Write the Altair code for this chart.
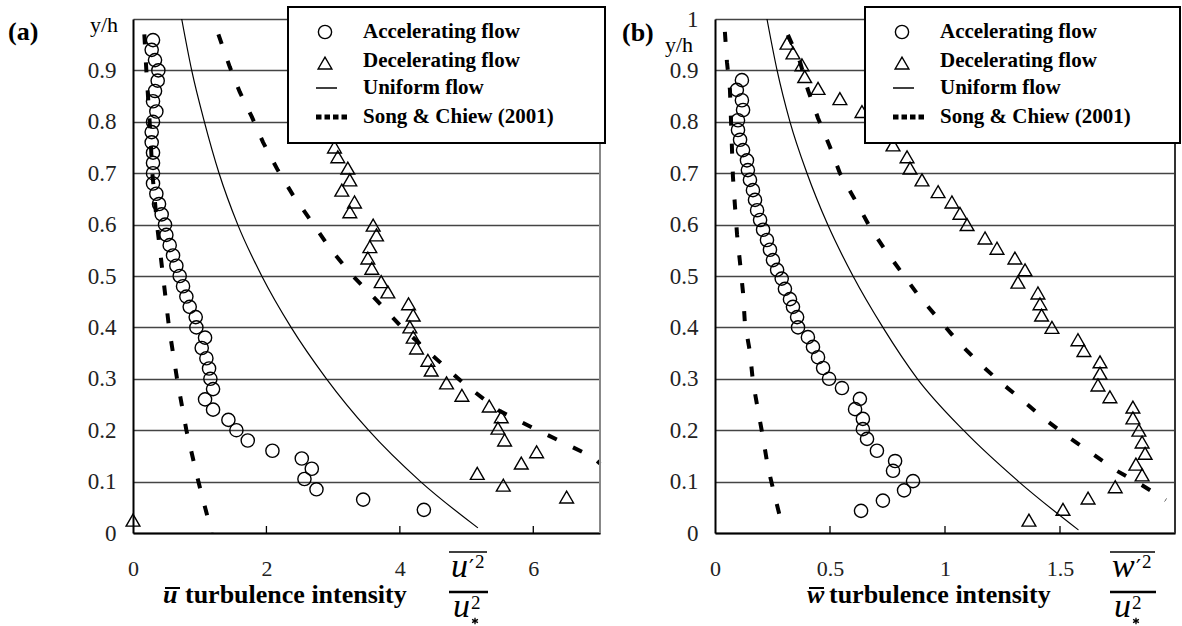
import altair as alt
import pandas as pd

FONT = "Liberation Serif"

# ---------------- panel (a): streamwise intensity u'^2/u*^2 ----------------
acc_a_y = [0.959, 0.94, 0.92, 0.90, 0.88, 0.86, 0.84, 0.82, 0.80, 0.78,
           0.76, 0.74, 0.72, 0.70, 0.68, 0.66, 0.64, 0.62, 0.60, 0.58,
           0.56, 0.54, 0.52, 0.50, 0.48, 0.46, 0.44, 0.42, 0.40, 0.38,
           0.36, 0.34, 0.32, 0.30, 0.28, 0.26, 0.24, 0.22, 0.20, 0.18,
           0.16, 0.145, 0.125, 0.105, 0.085, 0.065, 0.045]
acc_a_x = [0.30, 0.28, 0.33, 0.38, 0.37, 0.33, 0.30, 0.35, 0.30, 0.28,
           0.28, 0.30, 0.30, 0.30, 0.30, 0.35, 0.39, 0.43, 0.48, 0.50,
           0.55, 0.60, 0.65, 0.70, 0.75, 0.80, 0.85, 0.94, 0.95, 1.08,
           1.03, 1.10, 1.14, 1.16, 1.20, 1.08, 1.20, 1.43, 1.55, 1.72,
           2.09, 2.53, 2.68, 2.57, 2.75, 3.45, 4.36]

dec_a_y = [0.77, 0.751, 0.732, 0.71, 0.687, 0.667, 0.644, 0.625, 0.599, 0.58,
           0.557, 0.535, 0.515, 0.489, 0.469, 0.446, 0.424, 0.401, 0.381, 0.36,
           0.336, 0.317, 0.292, 0.268, 0.247, 0.226, 0.204, 0.181, 0.158, 0.136,
           0.116, 0.093, 0.07, 0.025]
dec_a_x = [2.98, 3.02, 3.07, 3.22, 3.25, 3.13, 3.32, 3.25, 3.60, 3.65,
           3.55, 3.52, 3.58, 3.72, 3.82, 4.13, 4.20, 4.15, 4.20, 4.25,
           4.42, 4.47, 4.70, 4.93, 5.34, 5.52, 5.47, 5.57, 6.05, 5.82,
           5.16, 5.55, 6.50, 0.0]

uni_a_y = [1.0, 0.9, 0.8, 0.7, 0.6, 0.5, 0.4, 0.3, 0.2, 0.1, 0.01]
uni_a_x = [0.73, 0.88, 1.07, 1.29, 1.57, 1.93, 2.37, 2.90, 3.53, 4.31, 5.17]

song_a_lo_y = [0.97, 0.9, 0.8, 0.7, 0.6, 0.5, 0.4, 0.3, 0.2, 0.1, 0.0]
song_a_lo_x = [0.17, 0.20, 0.25, 0.29, 0.36, 0.45, 0.54, 0.66, 0.80, 0.98, 1.18]
song_a_hi_y = [0.97, 0.907, 0.858, 0.81, 0.76, 0.706, 0.657, 0.605, 0.554, 0.502,
               0.453, 0.40, 0.35, 0.294, 0.239, 0.204, 0.167, 0.148, 0.135]
song_a_hi_x = [1.28, 1.45, 1.60, 1.78, 1.95, 2.17, 2.40, 2.68, 2.95, 3.28,
               3.65, 4.03, 4.45, 4.93, 5.47, 6.00, 6.59, 6.89, 7.00]

# ---------------- panel (b): vertical intensity w'^2/u*^2 ----------------
acc_b_y = [0.881, 0.862, 0.842, 0.823, 0.803, 0.784, 0.765, 0.745, 0.725, 0.706,
           0.687, 0.667, 0.648, 0.628, 0.609, 0.59, 0.57, 0.551, 0.531, 0.512,
           0.495, 0.475, 0.455, 0.44, 0.42, 0.40, 0.381, 0.362, 0.342, 0.321,
           0.30, 0.282, 0.261, 0.241, 0.222, 0.202, 0.183, 0.16, 0.14, 0.121,
           0.101, 0.083, 0.063, 0.043]
acc_b_x = [0.117, 0.095, 0.117, 0.122, 0.10, 0.10, 0.109, 0.122, 0.139, 0.143,
           0.152, 0.165, 0.174, 0.183, 0.196, 0.209, 0.226, 0.239, 0.252, 0.27,
           0.29, 0.304, 0.326, 0.339, 0.357, 0.361, 0.404, 0.426, 0.448, 0.47,
           0.496, 0.552, 0.63, 0.609, 0.643, 0.643, 0.661, 0.704, 0.783, 0.774,
           0.861, 0.822, 0.73, 0.635]

dec_b_y = [0.953, 0.934, 0.911, 0.888, 0.865, 0.845, 0.82, 0.755, 0.732, 0.71,
           0.687, 0.664, 0.644, 0.622, 0.60, 0.574, 0.554, 0.535, 0.512, 0.488,
           0.467, 0.446, 0.424, 0.40, 0.376, 0.355, 0.333, 0.311, 0.288, 0.265,
           0.245, 0.224, 0.20, 0.177, 0.155, 0.134, 0.113, 0.09, 0.068, 0.046,
           0.025]
dec_b_x = [0.313, 0.339, 0.378, 0.39, 0.448, 0.543, 0.639, 0.774, 0.835, 0.848,
           0.90, 0.97, 1.03, 1.065, 1.096, 1.174, 1.226, 1.304, 1.348, 1.317,
           1.404, 1.413, 1.42, 1.465, 1.578, 1.604, 1.674, 1.674, 1.665, 1.717,
           1.817, 1.817, 1.843, 1.857, 1.87, 1.83, 1.857, 1.74, 1.622, 1.513,
           1.365]

uni_b_y = [1.0, 0.9, 0.8, 0.7, 0.6, 0.5, 0.4, 0.3, 0.2, 0.1, 0.006]
uni_b_x = [0.226, 0.27, 0.326, 0.40, 0.49, 0.60, 0.73, 0.88, 1.08, 1.32, 1.58]

song_b_lo_y = [0.975, 0.916, 0.862, 0.745, 0.693, 0.635, 0.58, 0.525, 0.467,
               0.408, 0.352, 0.294, 0.239, 0.185, 0.128, 0.07, 0.016]
song_b_lo_x = [0.043, 0.052, 0.065, 0.074, 0.078, 0.087, 0.096, 0.109, 0.122,
               0.13, 0.152, 0.165, 0.187, 0.209, 0.23, 0.261, 0.291]
song_b_hi_y = [0.969, 0.916, 0.862, 0.807, 0.751, 0.70, 0.648, 0.595, 0.551, 0.506,
               0.463, 0.42, 0.372, 0.333, 0.294, 0.259, 0.224, 0.187, 0.156, 0.123,
               0.093, 0.064]
song_b_hi_x = [0.317, 0.37, 0.404, 0.448, 0.5, 0.543, 0.609, 0.674, 0.739, 0.813,
               0.883, 0.965, 1.057, 1.143, 1.239, 1.335, 1.426, 1.535, 1.635, 1.739,
               1.857, 1.96]

# ---------------- labels and ticks ----------------
legend_labels = ["Accelerating flow", "Decelerating flow", "Uniform flow", "Song & Chiew (2001)"]
x_ticks_a = [0, 2, 4, 6]
x_ticks_b = [0, 0.5, 1, 1.5]
y_ticks = [0, 0.1, 0.2, 0.3, 0.4, 0.5, 0.6, 0.7, 0.8, 0.9, 1.0]

H = 514
ONE = pd.DataFrame({"k": [0]})


def df(xs, ys):
    return pd.DataFrame({"x": xs, "y": ys})


def text(s, x, y, size, weight="normal", style="normal", align="left",
         baseline="alphabetic", font=FONT):
    return alt.Chart(ONE).mark_text(
        text=s, font=font, fontSize=size, fontWeight=weight, fontStyle=style,
        align=align, baseline=baseline, color="black"
    ).encode(x=alt.value(x), y=alt.value(y))


def seg(x0, x1, y, width, dash=None):
    kw = dict(color="black", strokeWidth=width)
    if dash:
        kw["strokeDash"] = dash
    return alt.Chart(ONE).mark_rule(**kw).encode(
        x=alt.value(x0), x2=alt.value(x1), y=alt.value(y))


def symbol(shape, x, y, size):
    return alt.Chart(ONE).mark_point(
        shape=shape, filled=False, size=size, color="black", strokeWidth=1.4, opacity=1
    ).encode(x=alt.value(x), y=alt.value(y))


def panel(p):
    X = alt.X("x:Q", title=None,
              scale=alt.Scale(domain=[0, p["xmax"]], nice=False, zero=False),
              axis=alt.Axis(values=p["xticks"], format="~g", grid=False, ticks=False,
                            labelPadding=25, labelFlush=False, domainWidth=2,
                            domainColor="black", labelFont=FONT, labelFontSize=22,
                            labelColor="#222"))
    Y = alt.Y("y:Q", title=None,
              scale=alt.Scale(domain=[0, 1], nice=False, zero=False),
              axis=alt.Axis(values=y_ticks, labelExpr=p["ylabels"], grid=True,
                            gridColor="#444", gridWidth=1.3, ticks=False,
                            labelPadding=17, domainWidth=2, domainColor="black",
                            labelFont=FONT, labelFontSize=23, labelColor="#222"))

    layers = [
        alt.Chart(df(p["uni"][0], p["uni"][1])).mark_line(
            color="black", strokeWidth=1.2, interpolate="monotone").encode(x=X, y=Y),
    ]
    for sx, sy in p["song"]:
        layers.append(alt.Chart(df(sx, sy)).mark_line(
            color="black", strokeWidth=4, strokeDash=[10, 18]).encode(x=X, y=Y))
    layers += [
        alt.Chart(df(*p["acc"])).mark_point(
            shape="circle", filled=False, size=175, color="black",
            strokeWidth=1.4, opacity=1).encode(x=X, y=Y),
        alt.Chart(df(*p["dec"])).mark_point(
            shape="triangle-up", filled=False, size=190, color="black",
            strokeWidth=1.4, opacity=1).encode(x=X, y=Y),
        # inward tick marks on the bottom axis
        alt.Chart(pd.DataFrame({"x": p["xticks"][1:], "y": 0})).mark_rule(
            color="black", strokeWidth=1.3).encode(x=X, y=Y, y2=alt.value(H - 7)),
        # right-hand frame
        alt.Chart(pd.DataFrame({"x": [p["xmax"]], "y": [0], "y2": [1]})).mark_rule(
            color=p["frame"], strokeWidth=2).encode(x=X, y=Y, y2="y2:Q"),
    ]

    # legend box
    lx0, lx1 = p["box"]
    layers.append(alt.Chart(ONE).mark_rect(fill="white", stroke="black", strokeWidth=2).encode(
        x=alt.value(lx0), x2=alt.value(lx1), y=alt.value(-12), y2=alt.value(124)))
    sx = p["sym_x"]
    rows = [13, 42, 69, 98]
    layers += [
        symbol("circle", sx, rows[0], 175),
        symbol("triangle-up", sx, rows[1] + 2, 190),
        seg(sx - 9, sx + 12, rows[2], 1.5),
        seg(sx - 9, sx + 23, rows[3], 5, [5.5, 3]),
    ]
    for lab, ry in zip(legend_labels, rows):
        layers.append(text(lab, p["text_x"], ry, 21, weight="bold", baseline="middle"))

    # panel letter and y label
    layers.append(text(p["letter"][0], p["letter"][1], p["letter"][2], 26,
                       weight="bold", baseline="middle"))
    layers.append(text("y/h", p["yh"][0], p["yh"][1], 22, align="right", baseline="middle"))

    # x axis title: barred symbol + words
    tx = p["title_x"]
    layers += [
        text(p["sym"], tx, 584, 26, weight="bold", style="italic"),
        seg(tx + 2, tx + 17, 569, 2),
        text("turbulence intensity", tx + 22, 584, 26, weight="bold"),
    ]

    # fraction  (sym'^2 over u*^2)
    fx = p["frac_x"]
    pdx = p["prime_dx"]
    layers += [
        seg(fx, fx + p["frac_w"], 533, 1.5),
        text(p["sym"], fx + 2, 558, 34, style="italic"),
        text("\u2032", fx + pdx, 556, 22, font="DejaVu Serif"),
        text("2", fx + pdx + 6, 549, 19),
        seg(fx, fx + p["frac_w"] + 1, 573, 2.5),
        text("u", fx + 4, 598, 34, style="italic"),
        text("2", fx + 22, 590, 19),
        alt.Chart(ONE).mark_point(
            shape="M0,-1L0,1M-0.87,-0.5L0.87,0.5M-0.87,0.5L0.87,-0.5",
            filled=False, size=45, color="black", strokeWidth=1.3, opacity=1
        ).encode(x=alt.value(fx + 26), y=alt.value(602)),
    ]

    return alt.layer(*layers).properties(width=p["width"], height=H)


pa = panel(dict(
    xmax=7, xticks=x_ticks_a, width=467, frame="#888",
    ylabels="datum.value > 0.95 ? '' : format(datum.value, '~g')",
    acc=(acc_a_x, acc_a_y), dec=(dec_a_x, dec_a_y), uni=(uni_a_x, uni_a_y),
    song=[(song_a_lo_x, song_a_lo_y), (song_a_hi_x, song_a_hi_y)],
    box=(155, 472), sym_x=192, text_x=230,
    letter=("(a)", -125, 13), yh=(-15, 6),
    sym="u", title_x=30, frac_x=316, frac_w=38, prime_dx=20,
))

pb = panel(dict(
    xmax=2, xticks=x_ticks_b, width=460, frame="#333",
    ylabels="format(datum.value, '~g')",
    acc=(acc_b_x, acc_b_y), dec=(dec_b_x, dec_b_y), uni=(uni_b_x, uni_b_y),
    song=[(song_b_lo_x, song_b_lo_y), (song_b_hi_x, song_b_hi_y)],
    box=(150, 465), sym_x=187, text_x=225,
    letter=("(b)", -93, 14), yh=(-22, 26),
    sym="w", title_x=92, frac_x=395, frac_w=45, prime_dx=26,
))

chart = alt.hconcat(pa, pb, spacing=115, bounds="flush").properties(
    padding={"left": 8, "top": 6, "right": 0, "bottom": 0}
).configure_view(stroke=None)

chart.save("out.html", embed_options={"renderer": "svg", "actions": False})
